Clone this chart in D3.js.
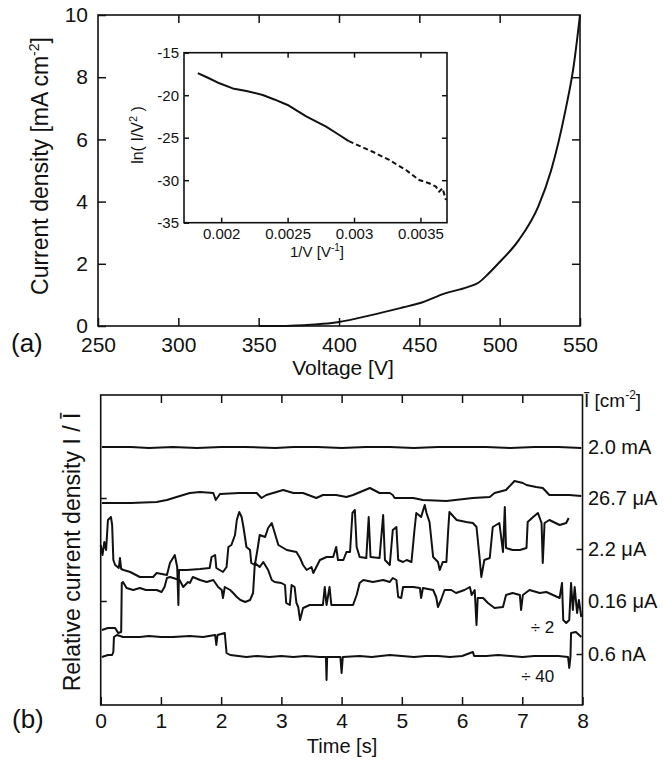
<!DOCTYPE html>
<html lang="en">
<head>
<meta charset="UTF-8" />
<title>Field emission current</title>
<script src="https://d3js.org/d3.v7.min.js"></script>
<style>
    body { margin: 0; background: #fff; }
    svg { font-family: "Liberation Sans", Arial, sans-serif; }
    .axis path, .axis line { fill: none; stroke: #111; stroke-width: 1.5; }
    .axis .domain { display: none; }
    .frame { fill: none; stroke: #111; stroke-width: 1.6; }
    .trace { fill: none; stroke: #111; stroke-width: 2; stroke-linejoin: round; }
</style>
</head>
<body>
<script>
// (a) current density vs voltage
var voltage = [350, 360, 370, 380, 390, 400, 420, 440, 450, 466, 480, 487, 493, 499, 512, 524, 532, 541, 546, 550];
var density = [0, 0, 0.01, 0.03, 0.07, 0.13, 0.35, 0.6, 0.73, 1.05, 1.25, 1.4, 1.68, 2.0, 2.77, 3.84, 5.0, 6.95, 8.34, 10.0];

// inset: Fowler-Nordheim plot
var invV = [0.001824, 0.0019, 0.001987, 0.002087, 0.00219, 0.002313, 0.0024, 0.0025, 0.00264, 0.00279, 0.002889, 0.00296,
            0.00314, 0.003265, 0.003391, 0.003491, 0.003566, 0.003617, 0.003641, 0.003666, 0.003692];
var lnIV2 = [-17.4, -17.95, -18.6, -19.2, -19.5, -19.98, -20.5, -21.15, -22.5, -23.7, -24.68, -25.4,
             -26.65, -27.62, -28.8, -29.98, -30.36, -30.76, -31.35, -30.95, -32.33];
var dashedFrom = 0.00296;

// (b) relative current density traces, [time s, offset value]
var trace2mA = [[0.02,25.8],[0.5,25.8],[0.8,25.7],[1.2,25.8],[1.6,25.7],[2.0,25.8],[2.4,25.8],[2.9,25.7],[3.2,25.8],[3.6,25.8],[4.0,25.7],
    [4.4,25.8],[4.8,25.8],[5.2,25.7],[5.6,25.8],[6.0,25.8],[6.4,25.8],[6.8,25.7],[7.2,25.8],[7.6,25.8],[7.98,25.7]];
var trace26uA = [[0.02,20.2],[0.5,20.2],[0.93,20.3],[1.01,20.4],[1.1,20.5],[1.26,20.8],[1.48,21.2],[1.65,21.3],[1.87,21.2],[1.91,20.5],
    [1.98,21.1],[2.3,21.2],[2.59,21.2],[2.67,20.7],[2.75,21.0],[3.03,21.5],[3.2,21.2],[3.36,21.2],[3.58,20.7],[3.69,21.0],[3.91,21.0],
    [4.08,20.8],[4.19,21.0],[4.47,21.7],[4.63,21.2],[4.8,21.2],[4.85,21.0],[4.88,20.7],[5.19,20.7],[5.35,20.5],[5.74,20.4],[6.18,20.7],
    [6.46,20.8],[6.54,21.2],[6.73,21.5],[6.84,22.2],[6.87,22.4],[7.01,22.2],[7.07,22.0],[7.23,21.8],[7.34,21.7],[7.45,21.0],[7.78,21.0],[7.98,20.9]];
var trace2uA = [[0.0,16.0],[0.03,15.0],[0.06,16.3],[0.09,15.5],[0.12,18.5],[0.17,18.8],[0.19,18.0],[0.21,14.5],[0.24,14.0],[0.3,13.7],
    [0.32,14.7],[0.34,13.6],[0.38,13.5],[0.49,13.3],[0.65,12.8],[0.87,12.8],[0.93,13.2],[1.1,13.0],[1.15,14.2],[1.23,15.0],[1.27,13.8],
    [1.29,10.0],[1.3,13.5],[1.43,13.5],[1.65,13.6],[1.81,13.7],[1.84,14.8],[1.9,15.0],[1.92,13.7],[2.03,13.3],[2.09,13.8],[2.12,15.8],
    [2.17,16.0],[2.23,17.0],[2.26,18.5],[2.3,19.3],[2.34,18.8],[2.37,17.8],[2.42,15.8],[2.48,15.5],[2.5,14.2],[2.56,14.0],[2.61,15.8],
    [2.64,17.0],[2.73,16.8],[2.78,17.7],[2.84,18.2],[2.89,17.2],[2.95,16.0],[3.09,15.5],[3.25,15.3],[3.31,14.7],[3.36,14.0],[3.42,13.5],
    [3.5,13.8],[3.53,13.2],[3.64,14.5],[3.75,14.8],[3.86,14.8],[3.91,15.8],[3.94,14.5],[4.03,14.5],[4.08,15.3],[4.14,15.3],[4.18,19.2],
    [4.22,19.5],[4.25,15.8],[4.3,14.8],[4.41,14.7],[4.45,18.8],[4.48,14.8],[4.63,14.7],[4.69,19.0],[4.72,14.5],[4.8,14.0],[4.85,17.5],
    [4.91,17.8],[4.94,14.5],[5.02,14.3],[5.08,14.5],[5.16,14.3],[5.21,17.5],[5.24,19.2],[5.32,18.8],[5.38,20.0],[5.41,19.2],[5.46,18.3],
    [5.52,14.8],[5.6,14.3],[5.63,13.5],[5.68,14.3],[5.74,14.3],[5.77,17.5],[5.79,19.3],[5.91,18.5],[6.07,18.3],[6.18,18.2],[6.24,17.8],
    [6.29,14.8],[6.32,12.8],[6.37,14.5],[6.46,14.7],[6.51,17.8],[6.62,18.2],[6.68,15.3],[6.71,19.8],[6.73,15.7],[6.84,15.5],[6.96,15.5],
    [7.07,15.7],[7.09,18.3],[7.18,18.8],[7.26,19.2],[7.32,18.2],[7.34,14.2],[7.37,18.2],[7.45,18.5],[7.62,18.0],[7.73,18.2],[7.77,18.7]];
var trace016uA = [[0.02,7.5],[0.12,7.7],[0.24,7.7],[0.29,7.2],[0.34,7.3],[0.35,12.2],[0.37,12.3],[0.43,11.7],[0.54,11.5],[0.65,11.7],
    [0.75,11.5],[0.93,11.5],[1.01,11.3],[1.06,11.8],[1.1,12.7],[1.15,12.8],[1.31,12.5],[1.37,11.8],[1.45,12.3],[1.48,12.2],[1.53,12.8],
    [1.65,12.5],[1.76,12.3],[1.87,12.5],[1.95,11.8],[2.01,11.5],[2.03,10.7],[2.06,11.8],[2.15,11.5],[2.2,11.2],[2.26,10.8],[2.32,10.5],
    [2.4,10.3],[2.48,10.5],[2.53,11.2],[2.56,14.2],[2.64,13.8],[2.7,14.3],[2.78,13.5],[2.84,12.5],[2.89,12.3],[3.0,12.2],[3.06,12.0],
    [3.08,10.2],[3.14,10.0],[3.17,12.0],[3.22,11.8],[3.25,10.2],[3.28,9.8],[3.31,8.5],[3.36,9.7],[3.47,10.0],[3.69,10.0],[3.72,11.8],
    [3.75,10.0],[3.8,11.8],[3.83,10.0],[4.02,10.0],[4.19,10.0],[4.25,11.0],[4.3,12.2],[4.36,12.5],[4.52,12.3],[4.69,12.5],[4.8,12.3],
    [4.85,12.7],[4.91,12.5],[4.94,10.8],[4.99,10.7],[5.02,11.8],[5.19,11.8],[5.3,11.7],[5.32,10.7],[5.35,11.7],[5.52,11.5],[5.57,10.8],
    [5.6,9.8],[5.65,10.5],[5.71,11.5],[5.82,11.5],[5.9,11.2],[6.04,11.5],[6.13,11.8],[6.16,11.0],[6.21,11.5],[6.24,8.0],[6.26,10.7],
    [6.35,10.7],[6.43,10.2],[6.54,9.7],[6.68,9.8],[6.73,11.0],[6.84,11.2],[6.96,11.0],[6.98,9.5],[7.01,11.0],[7.12,11.5],[7.29,11.2],
    [7.4,11.3],[7.51,11.0],[7.62,10.7],[7.66,12.2],[7.68,8.5],[7.73,8.2],[7.78,8.5],[7.81,12.2],[7.84,9.5],[7.87,11.8],[7.91,9.2],
    [7.94,10.5],[7.98,8.8]];
var trace06nA = [[0.02,4.8],[0.12,5.0],[0.19,5.0],[0.21,5.3],[0.22,6.8],[0.27,7.0],[0.37,6.8],[0.65,6.8],[0.8,6.9],[1.0,6.8],[1.2,6.8],
    [1.48,6.9],[1.7,6.8],[1.9,7.0],[1.92,6.0],[1.94,7.0],[2.06,7.2],[2.09,5.2],[2.15,5.0],[2.42,4.8],[2.6,4.9],[2.8,4.8],[3.0,4.9],
    [3.2,4.8],[3.4,4.9],[3.64,4.8],[3.74,4.8],[3.75,2.5],[3.76,4.8],[3.98,4.8],[4.0,3.2],[4.02,4.8],[4.3,4.9],[4.5,4.8],[4.8,5.0],
    [5.0,4.9],[5.2,4.8],[5.4,4.9],[5.6,4.9],[5.8,4.8],[6.0,4.9],[6.18,5.3],[6.2,4.9],[6.4,4.9],[6.6,5.0],[6.8,4.9],[7.0,4.8],
    [7.2,4.9],[7.4,4.9],[7.6,4.9],[7.76,4.8],[7.78,3.7],[7.8,4.8],[7.81,7.2],[7.89,7.3],[7.98,6.8]];

var traceLabels = ["2.0 mA", "26.7 \u03bcA", "2.2 \u03bcA", "0.16 \u03bcA", "0.6 nA"];
var traceLevels = [25.8, 20.7, 15.6, 10.4, 5.1];
var divisors = [{text: "\u00f7 2", level: 7.8}, {text: "\u00f7 40", level: 2.9}];

var svg = d3.select("body").append("svg").attr("width", 670).attr("height", 763);

// ---------- panel (a) ----------
var xV = d3.scaleLinear().domain([250, 550]).range([98, 580]);
var yJ = d3.scaleLinear().domain([0, 10]).range([326, 15]);

svg.append("g").attr("class", "axis").attr("transform", "translate(0,326)")
    .call(d3.axisBottom(xV).tickValues(d3.range(250, 551, 50)).tickSize(-8).tickSizeOuter(0).tickPadding(11))
    .selectAll("text").attr("font-size", 21).attr("fill", "#111");
svg.append("g").attr("class", "axis").attr("transform", "translate(0,15)")
    .call(d3.axisTop(xV).tickValues(d3.range(300, 501, 50)).tickSize(-8).tickFormat(""));
svg.append("g").attr("class", "axis").attr("transform", "translate(98,0)")
    .call(d3.axisLeft(yJ).tickValues(d3.range(0, 11, 2)).tickSize(-8).tickPadding(10))
    .selectAll("text").attr("font-size", 21).attr("fill", "#111");
svg.append("g").attr("class", "axis").attr("transform", "translate(580,0)")
    .call(d3.axisRight(yJ).tickValues([2, 4, 6, 8]).tickSize(-8).tickFormat(""));
svg.append("rect").attr("class", "frame").attr("x", 98).attr("y", 15).attr("width", 482).attr("height", 311);

svg.append("path").attr("class", "trace")
    .datum(d3.zip(voltage, density))
    .attr("d", d3.line().x(function(d){ return xV(d[0]); }).y(function(d){ return yJ(d[1]); }).curve(d3.curveMonotoneX));

var yTitleA = svg.append("text").attr("transform", "translate(48,166) rotate(-90)")
    .attr("text-anchor", "middle").attr("font-size", 23).attr("fill", "#111");
yTitleA.append("tspan").text("Current density [mA cm");
yTitleA.append("tspan").attr("dy", -9).attr("font-size", 14).text("-2");
yTitleA.append("tspan").attr("dy", 9).text("]");
svg.append("text").attr("x", 343).attr("y", 375).attr("text-anchor", "middle")
    .attr("font-size", 21).attr("fill", "#111").text("Voltage [V]");
svg.append("text").attr("x", 11).attr("y", 352).attr("font-size", 26).attr("fill", "#111").text("(a)");

// inset
var xI = d3.scaleLinear().domain([0.00172, 0.0037]).range([184, 447]);
var yI = d3.scaleLinear().domain([-35, -15]).range([222.7, 52.7]);
svg.append("rect").attr("x", 184).attr("y", 52.7).attr("width", 263).attr("height", 170).attr("fill", "#fff");
svg.append("g").attr("class", "axis").attr("transform", "translate(0,222.7)")
    .call(d3.axisBottom(xI).tickValues([0.002, 0.0025, 0.003, 0.0035]).tickSize(-5).tickPadding(6).tickFormat(d3.format("")))
    .selectAll("text").attr("font-size", 15).attr("fill", "#111");
svg.append("g").attr("class", "axis").attr("transform", "translate(0,52.7)")
    .call(d3.axisTop(xI).tickValues([0.002, 0.0025, 0.003, 0.0035]).tickSize(-5).tickFormat(""));
svg.append("g").attr("class", "axis").attr("transform", "translate(184,0)")
    .call(d3.axisLeft(yI).tickValues([-35, -30, -25, -20, -15]).tickSize(-5).tickPadding(5))
    .selectAll("text").attr("font-size", 15).attr("fill", "#111");
svg.append("g").attr("class", "axis").attr("transform", "translate(447,0)")
    .call(d3.axisRight(yI).tickValues([-30, -25, -20]).tickSize(-5).tickFormat(""));
svg.selectAll(".axis text").text(function(){ return this.textContent.replace("\u2212", "-"); });
svg.append("rect").attr("class", "frame").attr("x", 184).attr("y", 52.7).attr("width", 263).attr("height", 170);

var fnPoints = d3.zip(invV, lnIV2);
var fnLine = d3.line().x(function(d){ return xI(d[0]); }).y(function(d){ return yI(d[1]); });
svg.append("path").attr("class", "trace")
    .datum(fnPoints.filter(function(d){ return d[0] <= dashedFrom; }))
    .attr("d", fnLine);
svg.append("path").attr("class", "trace").attr("stroke-dasharray", "5,3")
    .datum(fnPoints.filter(function(d){ return d[0] >= dashedFrom; }))
    .attr("d", fnLine);

var yTitleI = svg.append("text").attr("transform", "translate(143,135) rotate(-90)")
    .attr("text-anchor", "middle").attr("font-size", 16).attr("fill", "#111");
yTitleI.append("tspan").text("ln( I/V");
yTitleI.append("tspan").attr("dy", -6).attr("font-size", 11).text("2");
yTitleI.append("tspan").attr("dy", 6).text(" )");
var xTitleI = svg.append("text").attr("x", 317).attr("y", 257).attr("text-anchor", "middle")
    .attr("font-size", 15).attr("fill", "#111");
xTitleI.append("tspan").text("1/V  [V");
xTitleI.append("tspan").attr("dy", -6).attr("font-size", 10).text("-1");
xTitleI.append("tspan").attr("dy", 6).text("]");

// ---------- panel (b) ----------
var xT = d3.scaleLinear().domain([0, 8]).range([100.7, 582.5]);
var yR = d3.scaleLinear().domain([0, 31]).range([705, 395]);

svg.append("g").attr("class", "axis").attr("transform", "translate(0,705)")
    .call(d3.axisBottom(xT).tickValues(d3.range(0, 9)).tickSize(-8).tickPadding(8))
    .selectAll("text").attr("font-size", 21).attr("fill", "#111");
svg.append("g").attr("class", "axis").attr("transform", "translate(0,395)")
    .call(d3.axisTop(xT).tickValues(d3.range(1, 8)).tickSize(-8).tickFormat(""));
svg.append("g").attr("class", "axis").attr("transform", "translate(100.7,0)")
    .call(d3.axisLeft(yR).tickValues([traceLevels[1], traceLevels[3]]).tickSize(-6).tickFormat(""));
svg.append("g").attr("class", "axis").attr("transform", "translate(582.5,0)")
    .call(d3.axisRight(yR).tickValues([traceLevels[2], traceLevels[4]]).tickSize(-6).tickFormat(""));
svg.append("rect").attr("class", "frame").attr("x", 100.7).attr("y", 395).attr("width", 481.8).attr("height", 310);

var traceLine = d3.line().x(function(d){ return xT(d[0]); }).y(function(d){ return yR(d[1]); });
svg.selectAll(".rel").data([trace2mA, trace26uA, trace2uA, trace016uA, trace06nA]).enter()
    .append("path").attr("class", "trace rel").attr("d", traceLine);

svg.selectAll(".tlabel").data(traceLabels).enter().append("text")
    .attr("class", "tlabel").attr("x", 588).attr("y", function(d, i){ return yR(traceLevels[i]); })
    .attr("dy", "0.36em").attr("font-size", 20).attr("fill", "#111").text(function(d){ return d; });
var unitLabel = svg.append("text").attr("x", 584).attr("y", 407).attr("font-size", 19).attr("fill", "#111");
unitLabel.append("tspan").text("\u012a  [cm");
unitLabel.append("tspan").attr("dy", -8).attr("font-size", 12).text("-2");
unitLabel.append("tspan").attr("dy", 8).text("]");
svg.selectAll(".div").data(divisors).enter().append("text").attr("class", "div")
    .attr("x", xT(7.53)).attr("y", function(d){ return yR(d.level); }).attr("dy", "0.36em")
    .attr("text-anchor", "end").attr("font-size", 17).attr("fill", "#111").text(function(d){ return d.text; });

svg.append("text").attr("transform", "translate(80,552) rotate(-90)").attr("text-anchor", "middle")
    .attr("font-size", 23).attr("fill", "#111").text("Relative current density I / \u012a");
svg.append("text").attr("x", 342).attr("y", 753).attr("text-anchor", "middle")
    .attr("font-size", 20).attr("fill", "#111").text("Time [s]");
svg.append("text").attr("x", 12).attr("y", 728).attr("font-size", 26).attr("fill", "#111").text("(b)");
</script>
</body>
</html>
